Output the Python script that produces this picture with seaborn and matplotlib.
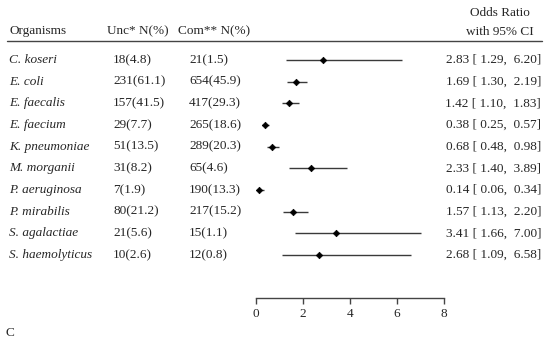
import matplotlib
matplotlib.use("Agg")
import matplotlib.pyplot as plt
from matplotlib.lines import Line2D
from matplotlib.transforms import blended_transform_factory
import pandas as pd
import seaborn as sns

# Datos
organisms = ["C. koseri", "E. coli", "E. faecalis", "E. faecium", "K. pneumoniae",
             "M. morganii", "P. aeruginosa", "P. mirabilis", "S. agalactiae",
             "S. haemolyticus"]
unc = ["18(4.8)", "231(61.1)", "157(41.5)", "29(7.7)", "51(13.5)",
       "31(8.2)", "7(1.9)", "80(21.2)", "21(5.6)", "10(2.6)"]
com = ["21(1.5)", "654(45.9)", "417(29.3)", "265(18.6)", "289(20.3)",
       "65(4.6)", "190(13.3)", "217(15.2)", "15(1.1)", "12(0.8)"]
odds = [2.83, 1.69, 1.42, 0.38, 0.68, 2.33, 0.14, 1.57, 3.41, 2.68]
ci_low = [1.29, 1.30, 1.10, 0.25, 0.48, 1.40, 0.06, 1.13, 1.66, 1.09]
ci_high = [6.20, 2.19, 1.83, 0.57, 0.98, 3.89, 0.34, 2.20, 7.00, 6.58]
x_ticks = [0, 2, 4, 6, 8]

df = pd.DataFrame({"org": organisms, "unc": unc, "com": com,
                   "or": odds, "lo": ci_low, "hi": ci_high})
df["row"] = range(len(df))

sns.set_style("white")
plt.rcParams["font.family"] = ["Liberation Serif", "DejaVu Serif"]
FS = 9.5

W, H = 550, 344
fig = plt.figure(figsize=(W / 100, H / 100), dpi=100)
ax = fig.add_axes([256 / W, 1 - 298 / H, (444 - 256) / W, (298 - 41) / H])

# barras de IC + diamantes
ax.hlines(df["row"], df["lo"], df["hi"], color="#3a3a3a", lw=1)
sns.scatterplot(data=df, x="or", y="row", marker="D", s=11, color="black",
                edgecolor="black", linewidth=0.5, ax=ax, zorder=3)

step = (255 - 60) / 9
ax.set_ylim(9 + (298 - 255) / step, -(60 - 41) / step)
ax.set_xlim(0, 8)
ax.set_xticks(x_ticks)
ax.set_yticks([])
ax.set_xlabel("")
ax.set_ylabel("")
for s in ["top", "right", "left"]:
    ax.spines[s].set_visible(False)
ax.spines["bottom"].set_color("#444444")
ax.spines["bottom"].set_linewidth(1)
ax.tick_params(axis="x", direction="out", length=4, width=1, color="#444444",
               labelsize=FS, pad=3, bottom=True)

# columnas de texto
tr = blended_transform_factory(fig.transFigure, ax.transData)
for _, r in df.iterrows():
    y = r["row"]
    ax.text(9 / W, y, r["org"], transform=tr, fontsize=FS, style="italic",
            va="center", ha="left")
    ax.text(113 / W, y, r["unc"], transform=tr, fontsize=FS, va="center")
    ax.text(189 / W, y, r["com"], transform=tr, fontsize=FS, va="center")
    ax.text(541 / W, y, f"{r['or']:.2f} [{r['lo']:5.2f}, {r['hi']:5.2f}]",
            transform=tr, fontsize=FS, va="center", ha="right")

# encabezados
fig.text(9 / W, 1 - 31 / H, "Organisms", fontsize=FS, va="center")
fig.text(107 / W, 1 - 31 / H, "Unc* N(%)", fontsize=FS, va="center")
fig.text(178 / W, 1 - 31 / H, "Com** N(%)", fontsize=FS, va="center")
fig.text(500 / W, 1 - 13 / H, "Odds Ratio", fontsize=FS, va="center", ha="center")
fig.text(500 / W, 1 - 32 / H, "with 95% CI", fontsize=FS, va="center", ha="center")
fig.add_artist(Line2D([7 / W, 542 / W], [1 - 41 / H, 1 - 41 / H],
                      color="#444444", lw=1, transform=fig.transFigure))
fig.text(5 / W, 1 - 333 / H, "C", fontsize=FS, va="center")

fig.savefig("out.png", dpi=100)
